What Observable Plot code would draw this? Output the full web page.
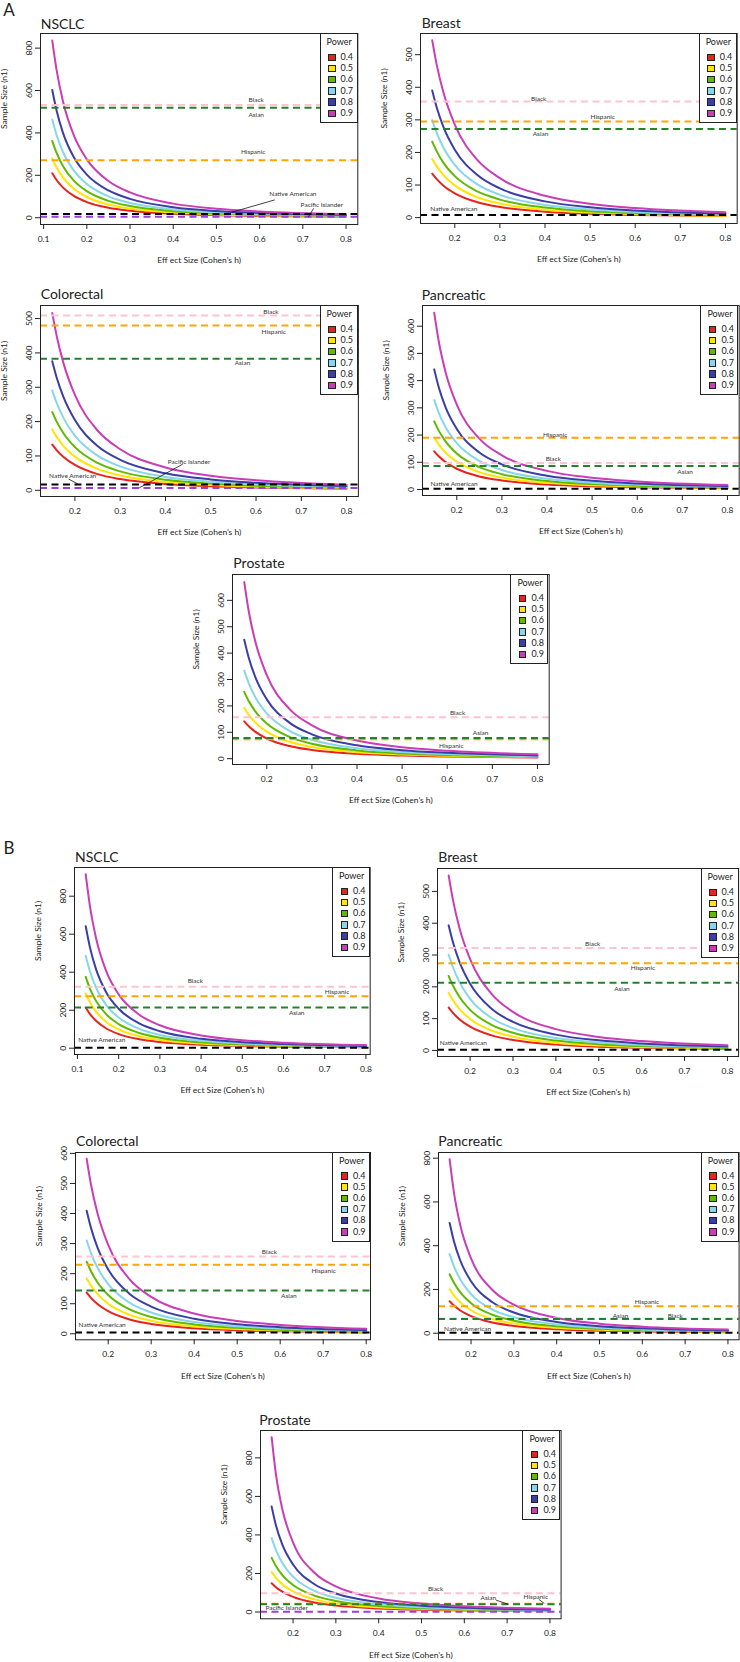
<!DOCTYPE html>
<html><head><meta charset="utf-8">
<script src="https://cdn.jsdelivr.net/npm/d3@7"></script>
<script src="https://cdn.jsdelivr.net/npm/@observablehq/plot@0.6"></script>
<style>
body{margin:0;background:#fff;}
#fig{position:relative;width:740px;height:1662px;overflow:hidden;font-family:Lato,"Open Sans",sans-serif;background:#fff;}
.legend{position:absolute;border:1px solid #222;background:#fff;box-sizing:border-box;font-size:9px;color:#222;}
.legend .ttl{position:absolute;left:6px;top:2px;line-height:12px;}
.legend .sw{position:absolute;left:7.5px;width:5.5px;height:5.5px;border:0.8px solid #222;}
.legend .lb{position:absolute;left:20px;line-height:10px;}
</style></head>
<body><div id="fig"></div>
<script>
// ---------- data ----------
const powers = ["0.4","0.5","0.6","0.7","0.8","0.9"];
const powerColors = ["#e8231d","#ffe500","#5fba00","#88d6ea","#3a3ea6","#c93db6"];
const groupColor = {"Black":"#ffc4cf","Hispanic":"#ffa500","Asian":"#23822a","Native American":"#000000","Pacific Islander":"#a03be0"};
const drawOrder = ["Black","Hispanic","Asian","Native American","Pacific Islander"];

const hNSCLC = [0.12,0.13,0.145,0.17,0.2,0.25,0.3,0.4,0.5,0.6,0.8];
const hOther = [0.15,0.16,0.175,0.2,0.25,0.3,0.4,0.5,0.6,0.8];

const ticksX_NSCLC = [0.1,0.2,0.3,0.4,0.5,0.6,0.7,0.8];
const ticksX_Other = [0.2,0.3,0.4,0.5,0.6,0.7,0.8];

// Sample size n1 per power (rows: 0.4..0.9), read along the effect-size grid
const A_NSCLC_n = [
 [209.7,177.7,142.0,102.6,73.8,47.0,32.6,18.3,11.7,8.1,4.6],
 [279.8,236.7,188.7,136.1,97.7,62.1,43.0,24.1,15.4,10.7,6.0],
 [361.7,305.3,242.9,174.7,125.1,79.5,55.0,30.8,19.7,13.6,7.7],
 [463.2,390.0,309.4,221.8,158.6,100.5,69.4,38.8,24.8,17.2,9.7],
 [602.3,505.4,399.3,285.1,203.2,128.4,88.6,49.5,31.6,21.9,12.3],
 [836.0,697.3,547.4,388.2,275.3,173.2,119.2,66.4,42.3,29.3,16.5]];
const A_Breast_n = [
 [134.8,117.9,97.9,74.5,47.3,32.7,18.3,11.7,8.1,4.6],
 [180.1,157.2,130.4,98.9,62.6,43.2,24.2,15.4,10.7,6.0],
 [233.1,203.2,168.1,127.2,80.3,55.3,30.9,19.7,13.7,7.7],
 [299.2,260.1,214.6,161.9,101.8,70.0,39.0,24.9,17.2,9.7],
 [390.1,338.0,277.9,208.6,130.6,89.6,49.8,31.7,21.9,12.3],
 [544.0,468.7,382.9,285.4,177.1,121.0,67.0,42.6,29.4,16.5]];
const A_Colorectal_n = [
 [133.0,116.5,97.0,73.9,47.1,32.6,18.3,11.7,8.1,4.6],
 [176.9,154.8,128.7,98.0,62.2,43.1,24.1,15.4,10.7,6.0],
 [227.8,199.1,165.3,125.6,79.7,55.0,30.8,19.7,13.6,7.7],
 [290.5,253.5,210.2,159.3,100.8,69.5,38.9,24.8,17.2,9.7],
 [375.5,327.0,270.4,204.4,128.9,88.8,49.5,31.6,21.9,12.3],
 [516.0,447.8,368.8,277.5,174.1,119.6,66.6,42.4,29.4,16.5]];
const A_Pancreatic_n = [
 [140.4,122.1,100.9,76.2,48.0,33.0,18.4,11.7,8.1,4.6],
 [190.2,164.9,135.7,101.9,63.8,43.8,24.4,15.5,10.7,6.0],
 [250.5,216.2,177.0,132.2,82.3,56.3,31.2,19.8,13.7,7.7],
 [328.4,281.9,229.3,170.1,105.0,71.5,39.5,25.1,17.3,9.7],
 [441.3,375.8,302.9,222.4,135.8,92.0,50.5,32.0,22.1,12.4],
 [649.0,544.7,432.1,311.9,187.0,125.5,68.4,43.1,29.7,16.6]];
const A_Prostate_n = [
 [141.3,122.8,101.4,76.4,48.1,33.1,18.4,11.7,8.1,4.6],
 [191.9,166.2,136.5,102.4,64.0,43.9,24.4,15.5,10.7,6.0],
 [253.4,218.4,178.4,133.0,82.6,56.4,31.2,19.8,13.7,7.7],
 [333.5,285.6,231.7,171.4,105.5,71.8,39.6,25.1,17.3,9.7],
 [450.5,382.4,307.2,224.8,136.7,92.4,50.7,32.0,22.1,12.4],
 [669.1,558.8,440.9,316.4,188.6,126.3,68.6,43.2,29.7,16.6]];
const B_NSCLC_n = [
 [214.3,181.0,144.1,103.7,74.3,47.2,32.7,18.3,11.7,8.1,4.6],
 [288.1,242.6,192.5,138.0,98.7,62.5,43.2,24.2,15.4,10.7,6.0],
 [375.7,315.3,249.1,177.9,126.8,80.1,55.3,30.9,19.7,13.7,7.7],
 [486.5,406.4,319.6,227.0,161.2,101.5,69.9,39.0,24.9,17.2,9.7],
 [642.3,533.2,416.5,293.7,207.5,130.1,89.4,49.7,31.7,21.9,12.3],
 [915.0,751.4,580.2,404.4,283.3,176.3,120.7,66.9,42.5,29.4,16.5]];
const B_Breast_n = [
 [135.1,118.1,98.1,74.6,47.3,32.7,18.3,11.7,8.1,4.6],
 [180.7,157.7,130.7,99.1,62.7,43.3,24.2,15.4,10.7,6.0],
 [234.2,204.0,168.7,127.5,80.4,55.4,30.9,19.7,13.7,7.7],
 [301.0,261.5,215.6,162.4,102.0,70.1,39.0,24.9,17.2,9.7],
 [393.2,340.3,279.4,209.5,130.9,89.7,49.8,31.7,21.9,12.3],
 [550.0,473.2,385.9,287.0,177.8,121.3,67.1,42.6,29.5,16.5]];
const B_Colorectal_n = [
 [137.0,119.5,99.1,75.1,47.5,32.8,18.3,11.7,8.1,4.6],
 [184.0,160.2,132.5,100.1,63.1,43.5,24.3,15.5,10.7,6.0],
 [239.8,208.2,171.6,129.2,81.1,55.7,31.0,19.8,13.7,7.7],
 [310.3,268.5,220.3,165.1,103.1,70.6,39.2,24.9,17.3,9.7],
 [409.3,352.3,287.5,214.0,132.6,90.6,50.1,31.8,22.0,12.3],
 [582.0,496.7,401.4,295.5,181.0,122.8,67.5,42.8,29.6,16.5]];
const B_Pancreatic_n = [
 [146.2,126.5,103.8,77.8,48.6,33.3,18.5,11.8,8.1,4.6],
 [201.1,173.0,141.1,104.9,65.0,44.4,24.5,15.6,10.8,6.0],
 [269.6,230.3,186.3,137.3,84.2,57.2,31.5,19.9,13.8,7.7],
 [362.0,306.3,245.2,178.6,108.2,73.0,39.9,25.2,17.4,9.7],
 [504.2,420.5,331.3,237.4,141.3,94.5,51.3,32.3,22.2,12.4],
 [794.9,643.9,492.3,342.0,197.4,130.2,69.7,43.6,29.9,16.7]];
const B_Prostate_n = [
 [149.6,129.1,105.6,78.8,49.0,33.5,18.6,11.8,8.2,4.6],
 [207.6,177.8,144.2,106.7,65.7,44.7,24.6,15.6,10.8,6.0],
 [281.4,238.9,191.9,140.3,85.3,57.7,31.6,20.0,13.8,7.7],
 [383.7,321.7,254.9,183.8,110.0,73.8,40.2,25.3,17.5,9.7],
 [547.3,450.0,349.4,246.5,144.4,95.9,51.7,32.5,22.3,12.4],
 [907.5,715.8,533.3,361.3,203.7,132.9,70.5,43.9,30.1,16.7]];

// Subgroup sample-size reference lines
const A_NSCLC_groups = ["Black","Asian","Hispanic","Native American","Pacific Islander"];
const A_NSCLC_groupN = [532,519,271,17,5];
const A_Breast_groups = ["Black","Hispanic","Asian","Native American"];
const A_Breast_groupN = [356,295,272,8];
const A_Colorectal_groups = ["Black","Hispanic","Asian","Native American","Pacific Islander"];
const A_Colorectal_groupN = [509,480,383,17,7];
const A_Pancreatic_groups = ["Hispanic","Black","Asian","Native American"];
const A_Pancreatic_groupN = [190,97,86,3];
const A_Prostate_groups = ["Black","Asian","Hispanic"];
const A_Prostate_groupN = [157,78,74];
const B_NSCLC_groups = ["Black","Hispanic","Asian","Native American"];
const B_NSCLC_groupN = [324,273,214,2];
const B_Breast_groups = ["Black","Hispanic","Asian","Native American"];
const B_Breast_groupN = [322,274,213,2];
const B_Colorectal_groups = ["Black","Hispanic","Asian","Native American"];
const B_Colorectal_groupN = [257,230,144,4];
const B_Pancreatic_groups = ["Hispanic","Black","Asian","Native American"];
const B_Pancreatic_groupN = [123,67,65,2];
const B_Prostate_groups = ["Black","Hispanic","Asian","Pacific Islander"];
const B_Prostate_groupN = [98,43,40,1];

// ---------- layout (annotation positions in data units) ----------
const panels = [
 {title:"NSCLC", box:[40.2,33,357.5,224], xd:[0.0928,0.8272], yd:[-32,869], xt:ticksX_NSCLC, yt:[0,200,400,600,800], h:hNSCLC, n:A_NSCLC_n, g:A_NSCLC_groups, gn:A_NSCLC_groupN, tpos:[40.7,29.3],
  labels:[["Black",0.592,557],["Asian",0.592,485],["Hispanic",0.585,312],["Native American",0.677,111],["Pacific Islander",0.744,60]],
  leaders:[[0.635,84,0.536,26],[0.725,44,0.713,4]]},
 {title:"Breast", box:[420,33,736.7,223], xd:[0.124,0.826], yd:[-18,565], xt:ticksX_Other, yt:[0,100,200,300,400,500], h:hOther, n:A_Breast_n, g:A_Breast_groups, gn:A_Breast_groupN, tpos:[421.7,28.3],
  labels:[["Black",0.386,365],["Hispanic",0.528,309],["Asian",0.39,256],["Native American",0.198,27]], leaders:[]},
 {title:"Colorectal", box:[39.6,305,357.5,496], xd:[0.124,0.826], yd:[-18,538], xt:ticksX_Other, yt:[0,100,200,300,400,500], h:hOther, n:A_Colorectal_n, g:A_Colorectal_groups, gn:A_Colorectal_groupN, tpos:[40.7,299.3],
  labels:[["Black",0.633,519],["Hispanic",0.639,461],["Asian",0.570,371],["Native American",0.195,41],["Pacific Islander",0.452,82]],
  leaders:[[0.186,33,0.207,18],[0.438,76,0.342,7]]},
 {title:"Pancreatic", box:[421.7,305,738.4,495], xd:[0.124,0.826], yd:[-22,676], xt:ticksX_Other, yt:[0,100,200,300,400,500,600], h:hOther, n:A_Pancreatic_n, g:A_Pancreatic_groups, gn:A_Pancreatic_groupN, tpos:[421.7,300],
  labels:[["Hispanic",0.418,199],["Black",0.414,113],["Asian",0.706,64],["Native American",0.194,21]], leaders:[]},
 {title:"Prostate", box:[231.7,574,548.4,764], xd:[0.124,0.826], yd:[-22,698], xt:ticksX_Other, yt:[0,100,200,300,400,500,600], h:hOther, n:A_Prostate_n, g:A_Prostate_groups, gn:A_Prostate_groupN, tpos:[233.3,568.3],
  labels:[["Black",0.623,173],["Asian",0.674,98],["Hispanic",0.609,47]], leaders:[]},
 {title:"NSCLC", box:[74.3,867,370,1054], xd:[0.0928,0.8104], yd:[-33,951], xt:ticksX_NSCLC, yt:[0,200,400,600,800], h:hNSCLC, n:B_NSCLC_n, g:B_NSCLC_groups, gn:B_NSCLC_groupN, tpos:[75,861.7],
  labels:[["Black",0.386,352],["Hispanic",0.730,294],["Asian",0.632,186],["Native American",0.159,43]], leaders:[]},
 {title:"Breast", box:[437.4,868,738.5,1056], xd:[0.124,0.826], yd:[-19,572], xt:ticksX_Other, yt:[0,100,200,300,400,500], h:hOther, n:B_Breast_n, g:B_Breast_groups, gn:B_Breast_groupN, tpos:[438.3,861.7],
  labels:[["Black",0.486,335],["Hispanic",0.603,260],["Asian",0.554,195],["Native American",0.184,25]], leaders:[]},
 {title:"Colorectal", box:[75,1151.7,370,1339], xd:[0.124,0.81], yd:[-20,603], xt:ticksX_Other, yt:[0,100,200,300,400,500,600], h:hOther, n:B_Colorectal_n, g:B_Colorectal_groups, gn:B_Colorectal_groupN, tpos:[76,1146],
  labels:[["Black",0.575,271],["Hispanic",0.701,210],["Asian",0.620,127],["Native American",0.186,28]], leaders:[]},
 {title:"Pancreatic", box:[438.2,1151.7,738.8,1339], xd:[0.124,0.826], yd:[-30,826], xt:ticksX_Other, yt:[0,200,400,600,800], h:hOther, n:B_Pancreatic_n, g:B_Pancreatic_groups, gn:B_Pancreatic_groupN, tpos:[438.3,1146],
  labels:[["Hispanic",0.611,141],["Asian",0.549,81],["Black",0.677,81],["Native American",0.192,20]], leaders:[]},
 {title:"Prostate", box:[259.8,1430,560.4,1618.3], xd:[0.124,0.826], yd:[-35,942], xt:ticksX_Other, yt:[0,200,400,600,800], h:hOther, n:B_Prostate_n, g:B_Prostate_groups, gn:B_Prostate_groupN, tpos:[259.3,1425],
  labels:[["Black",0.533,121],["Asian",0.656,74],["Hispanic",0.767,81],["Pacific Islander",0.185,22]],
  leaders:[[0.674,62,0.701,41],[0.774,66,0.787,44]]}
];

const fig = document.getElementById("fig");
const FONT = "Lato, 'Open Sans', sans-serif";

function drawPanel(cfg){
  const [l,t,r,b] = cfg.box;
  const rows = [];
  powers.forEach((p,i)=>cfg.h.forEach((x,j)=>rows.push({h:x, n:cfg.n[i][j], power:p})));
  const gRows = cfg.g.map((g,i)=>({group:g, n:cfg.gn[i]}));
  const labelRows = cfg.labels.map(([text,x,y])=>({text,x,y}));
  const leaderRows = cfg.leaders.map(([x1,y1,x2,y2])=>({x1,y1,x2,y2}));
  const mL=46,mR=4,mT=4,mB=48;
  const marks = [
    Plot.line(rows,{x:"h",y:"n",stroke:"power",z:"power",strokeWidth:2,curve:"monotone-x"}),
    ...drawOrder.filter(g=>cfg.g.includes(g)).map(g=>Plot.ruleY(gRows.filter(d=>d.group===g),{y:"n",stroke:groupColor[g],strokeWidth:2,strokeDasharray:"7,4.5"})),
    Plot.link(leaderRows,{x1:"x1",y1:"y1",x2:"x2",y2:"y2",stroke:"#111",strokeWidth:0.8}),
    Plot.text(labelRows,{x:"x",y:"y",text:"text",fontSize:6.5,fill:"#333"}),
    Plot.frame({stroke:"#222",strokeWidth:1}),
    Plot.axisX({ticks:cfg.xt,tickFormat:d3.format(".1f"),tickSize:5,tickPadding:6,label:null,fontSize:8.5}),
    Plot.axisY({ticks:cfg.yt,tickFormat:d=>String(d),tickSize:5,tickPadding:3.5,tickRotate:-90,label:null,fontSize:8.5}),
    Plot.text(["Eff ect Size (Cohen’s h)"],{text:d=>d,frameAnchor:"bottom",dy:39,fontSize:8.5,fill:"#222"}),
    Plot.text(["Sample Size (n1)"],{text:d=>d,frameAnchor:"left",dx:-36,rotate:-90,fontSize:8.5,fill:"#222"})
  ];
  const svg = Plot.plot({
    width:(r-l)+mL+mR, height:(b-t)+mT+mB,
    marginLeft:mL, marginRight:mR, marginTop:mT, marginBottom:mB,
    x:{domain:cfg.xd}, y:{domain:cfg.yd},
    color:{domain:powers, range:powerColors},
    style:{background:"transparent", fontFamily:FONT, fontSize:"8.5px", color:"#222", overflow:"visible"},
    marks
  });
  svg.style.position="absolute";
  svg.style.left=(l-mL)+"px";
  svg.style.top=(t-mT)+"px";
  svg.style.maxWidth="none";
  fig.appendChild(svg);

  // legend
  const W=38,H=90;
  const lg=document.createElement("div");
  lg.className="legend";
  lg.style.left=(r-W)+"px"; lg.style.top=t+"px"; lg.style.width=W+"px"; lg.style.height=H+"px";
  let html='<div class="ttl">Power</div>';
  powers.forEach((p,i)=>{
    const cy=23+i*11.2;
    html+=`<div class="sw" style="top:${cy-3.5}px;background:${powerColors[i]}"></div><div class="lb" style="top:${cy-5}px">${p}</div>`;
  });
  lg.innerHTML=html;
  fig.appendChild(lg);
}
panels.forEach(drawPanel);

// titles and panel letters
const ov = d3.create("svg").attr("width",740).attr("height",1662)
  .style("position","absolute").style("left","0").style("top","0").style("pointer-events","none")
  .style("font-family",FONT);
panels.forEach(p=>{
  ov.append("text").attr("x",p.tpos[0]).attr("y",p.tpos[1]).attr("font-size",14).attr("fill","#222").text(p.title);
});
ov.append("text").attr("x",3.3).attr("y",16).attr("font-size",17).attr("fill","#222").text("A");
ov.append("text").attr("x",3.5).attr("y",854).attr("font-size",17).attr("fill","#222").text("B");
fig.appendChild(ov.node());
</script>
</body></html>
